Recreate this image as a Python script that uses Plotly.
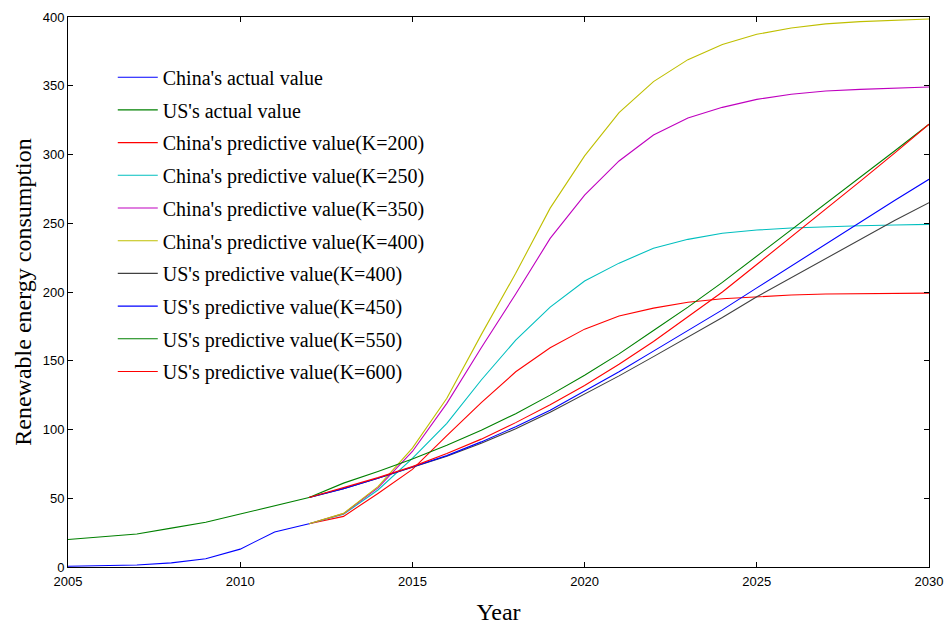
import plotly.graph_objects as go

years_actual = list(range(2005, 2013))
years_pred = list(range(2012, 2031))

china_actual = [0.5, 0.9, 1.5, 3.0, 6.0, 13.0, 25.5, 31.5]
us_actual = [20.0, 22.0, 24.0, 28.3, 32.5, 38.5, 44.5, 50.5]

china_k200 = [31.5, 36.8, 53.5, 71.0, 95.5, 119.5, 142.0, 159.5, 173.0, 182.5, 188.3, 192.5, 195.1, 196.6, 197.8, 198.5, 198.8, 199.0, 199.2]
china_k250 = [31.5, 38.3, 56.0, 79.0, 104.5, 136.0, 165.0, 189.0, 208.0, 221.0, 231.8, 238.3, 242.7, 245.1, 246.5, 247.5, 248.2, 248.7, 249.2]
china_k350 = [31.5, 38.8, 57.5, 84.0, 119.0, 159.5, 198.5, 239.0, 270.5, 295.3, 314.2, 326.5, 334.3, 340.1, 343.8, 346.2, 347.4, 348.4, 349.1]
china_k400 = [31.5, 39.0, 58.5, 86.5, 122.7, 169.0, 213.6, 261.0, 299.0, 330.4, 353.0, 369.0, 380.0, 387.4, 392.0, 395.0, 396.6, 397.6, 398.5]

us_k400 = [50.5, 57.0, 64.5, 72.3, 80.5, 90.0, 100.5, 112.5, 125.5, 139.0, 153.0, 167.0, 181.5, 196.5, 210.5, 224.5, 238.5, 252.0, 265.0]
us_k450 = [50.5, 57.0, 64.5, 72.5, 81.0, 91.0, 102.0, 114.0, 128.0, 142.0, 157.0, 172.0, 187.0, 203.0, 219.0, 235.0, 251.0, 266.5, 282.0]
us_k550 = [50.5, 61.0, 69.5, 78.5, 88.5, 99.5, 111.5, 125.0, 139.5, 155.0, 172.0, 189.0, 207.0, 226.0, 245.0, 264.0, 283.0, 302.5, 322.0]
us_k600 = [50.5, 57.5, 65.0, 73.0, 82.5, 93.0, 105.0, 118.0, 132.0, 147.5, 164.0, 182.0, 200.0, 220.0, 240.0, 260.0, 280.5, 301.0, 322.0]

series = [
    ("China's actual value", years_actual, china_actual, "rgb(0,0,255)"),
    ("US's actual value", years_actual, us_actual, "rgb(0,128,0)"),
    ("China's predictive value(K=200)", years_pred, china_k200, "rgb(255,0,0)"),
    ("China's predictive value(K=250)", years_pred, china_k250, "rgb(0,191,191)"),
    ("China's predictive value(K=350)", years_pred, china_k350, "rgb(191,0,191)"),
    ("China's predictive value(K=400)", years_pred, china_k400, "rgb(191,191,0)"),
    ("US's predictive value(K=400)", years_pred, us_k400, "rgb(64,64,64)"),
    ("US's predictive value(K=450)", years_pred, us_k450, "rgb(0,0,255)"),
    ("US's predictive value(K=550)", years_pred, us_k550, "rgb(0,128,0)"),
    ("US's predictive value(K=600)", years_pred, us_k600, "rgb(255,0,0)"),
]

fig = go.Figure()
for i, (name, xs, ys, color) in enumerate(series):
    fig.add_trace(go.Scatter(x=xs, y=ys, mode="lines", name=name,
                             legendgroup=f"g{i}",
                             line=dict(color=color, width=1.1)))

axis_common = dict(
    showgrid=False, zeroline=False, showline=True, linecolor="black", linewidth=1,
    mirror="ticks", ticks="inside", ticklen=5, tickcolor="black", tickwidth=1,
    automargin=False,
    tickfont=dict(family="Liberation Sans, Arial, sans-serif", size=13, color="black"),
)

fig.update_layout(
    width=947, height=628,
    margin=dict(l=68, r=18, t=17, b=61),
    paper_bgcolor="white", plot_bgcolor="white",
    xaxis=dict(range=[2005, 2030], dtick=5, tick0=2005, ticklabelstandoff=2,
               title=dict(text="Year", standoff=15,
                          font=dict(family="Liberation Serif, Times New Roman, serif", size=24, color="black")),
               **axis_common),
    yaxis=dict(range=[0, 400], dtick=50, tick0=0,
               title=dict(text="Renewable energy consumption", standoff=4,
                          font=dict(family="Liberation Serif, Times New Roman, serif", size=24, color="black")),
               **axis_common),
    showlegend=True,
    legend=dict(x=0.052, y=0.926, xanchor="left", yanchor="top",
                bgcolor="rgba(0,0,0,0)", borderwidth=0,
                tracegroupgap=3.7, itemwidth=40,
                font=dict(family="Liberation Serif, Times New Roman, serif", size=20, color="black")),
)

# remove the browser's default page margin so the figure sits at the window's corner
fig.write_html("out.html", config={"displayModeBar": False},
               post_script="document.body.style.margin='0';document.body.style.overflow='hidden';")
